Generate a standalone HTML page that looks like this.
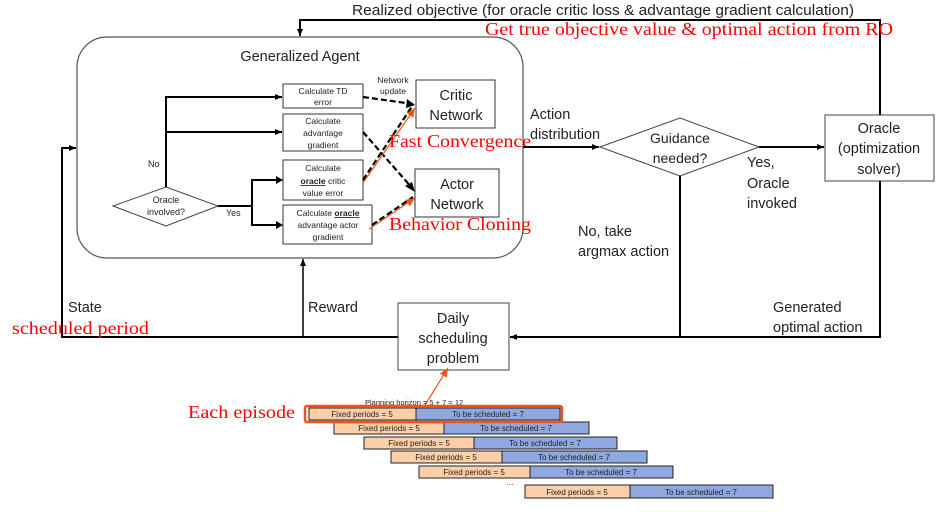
<!DOCTYPE html>
<html><head><style>
body{margin:0;background:#fff;}
svg text{font-family:"Liberation Sans",sans-serif;fill:#222;}
.s{font-family:"Liberation Serif",serif !important;fill:#f00 !important;}
</style></head><body>
<svg width="943" height="507" viewBox="0 0 943 507" xmlns="http://www.w3.org/2000/svg">
<defs>
<marker id="a" markerWidth="8" markerHeight="8" refX="7" refY="4" orient="auto" markerUnits="userSpaceOnUse"><path d="M0,1 L7,4 L0,7z" fill="#000"/></marker>
<marker id="o" markerWidth="10" markerHeight="10" refX="9" refY="5" orient="auto" markerUnits="userSpaceOnUse"><path d="M0,1 L9,5 L0,9z" fill="#f0541e"/></marker>
</defs>
<rect x="77" y="37" width="446" height="221" rx="30" fill="none" stroke="#555" stroke-width="1.2"/>
<text x="300" y="61" font-size="14.5" text-anchor="middle">Generalized Agent</text>
<polyline points="880,115 880,20 300,20 300,36" fill="none" stroke="#000" stroke-width="2" marker-end="url(#a)"/>
<text x="603" y="15" font-size="14.5" text-anchor="middle" textLength="502" lengthAdjust="spacingAndGlyphs">Realized objective (for oracle critic loss &amp; advantage gradient calculation)</text>
<text class="s" x="485" y="35" font-size="18" textLength="408" lengthAdjust="spacingAndGlyphs">Get true objective value &amp; optimal action from RO</text>
<polygon points="113,206 166,187 218,206 166,226" fill="#fff" stroke="#444"/>
<text x="166" y="203" font-size="9" text-anchor="middle">Oracle</text>
<text x="166" y="215" font-size="9" text-anchor="middle">involved?</text>
<text x="148" y="167" font-size="9">No</text>
<text x="226" y="216" font-size="9">Yes</text>
<polyline points="166,187 166,97 282,97" fill="none" stroke="#000" stroke-width="2" marker-end="url(#a)"/>
<line x1="166" y1="132" x2="282" y2="132" stroke="#000" stroke-width="2" marker-end="url(#a)"/>
<line x1="218" y1="206" x2="252" y2="206" stroke="#000" stroke-width="2"/>
<polyline points="282,180 252,180 252,225 282,225" fill="none" stroke="#000" stroke-width="2"/>
<path d="M276,176 L283,180 L276,184z M276,221 L283,225 L276,229z" fill="#000"/>
<rect x="283" y="84" width="80" height="24" fill="#fff" stroke="#333"/>
<text x="323" y="94" font-size="8.5" text-anchor="middle">Calculate TD</text>
<text x="323" y="105" font-size="8.5" text-anchor="middle">error</text>
<rect x="283" y="114" width="80" height="37" fill="#fff" stroke="#333"/>
<text x="323" y="124" font-size="8.5" text-anchor="middle">Calculate</text>
<text x="323" y="136" font-size="8.5" text-anchor="middle">advantage</text>
<text x="323" y="148" font-size="8.5" text-anchor="middle">gradient</text>
<rect x="283" y="160" width="80" height="40" fill="#fff" stroke="#333"/>
<text x="323" y="171" font-size="8.5" text-anchor="middle">Calculate</text>
<text x="323" y="184" font-size="8.5" text-anchor="middle"><tspan font-weight="bold" text-decoration="underline">oracle</tspan> critic</text>
<text x="323" y="196" font-size="8.5" text-anchor="middle">value error</text>
<rect x="283" y="205" width="89" height="39" fill="#fff" stroke="#333"/>
<text x="328" y="216" font-size="8.5" text-anchor="middle">Calculate <tspan font-weight="bold" text-decoration="underline">oracle</tspan></text>
<text x="328" y="228" font-size="8.5" text-anchor="middle">advantage actor</text>
<text x="328" y="240" font-size="8.5" text-anchor="middle">gradient</text>
<text x="393" y="83" font-size="8.5" text-anchor="middle">Network</text>
<text x="393" y="94" font-size="8.5" text-anchor="middle">update</text>
<g stroke="#000" stroke-width="2.2" stroke-dasharray="6,3" fill="none">
<line x1="363" y1="97" x2="413" y2="104"/>
<line x1="363" y1="132" x2="413" y2="189"/>
<line x1="363" y1="180" x2="413" y2="105"/>
<line x1="372" y1="225" x2="413" y2="197"/>
</g>
<path d="M407,99 L415,105 L406,108z M405,186 L415,192 L412,182z" fill="#000"/>
<line x1="363" y1="183" x2="415" y2="108" stroke="#f0541e" stroke-width="1.2" marker-end="url(#o)"/>
<line x1="369" y1="229" x2="415" y2="198" stroke="#f0541e" stroke-width="1.2" marker-end="url(#o)"/>
<rect x="416" y="80" width="79" height="48" fill="#fff" stroke="#333"/>
<text x="456" y="100" font-size="14.5" text-anchor="middle">Critic</text>
<text x="456" y="120" font-size="14.5" text-anchor="middle">Network</text>
<rect x="415" y="169" width="84" height="48" fill="#fff" stroke="#333"/>
<text x="457" y="189" font-size="14.5" text-anchor="middle">Actor</text>
<text x="457" y="209" font-size="14.5" text-anchor="middle">Network</text>
<text class="s" x="389" y="147" font-size="18" textLength="142" lengthAdjust="spacingAndGlyphs">Fast Convergence</text>
<text class="s" x="389" y="230" font-size="18" textLength="142" lengthAdjust="spacingAndGlyphs">Behavior Cloning</text>
<line x1="523" y1="147" x2="599" y2="147" stroke="#000" stroke-width="2" marker-end="url(#a)"/>
<text x="530" y="119" font-size="14.5">Action</text>
<text x="530" y="139" font-size="14.5">distribution</text>
<polygon points="600,147 680,118 759,147 680,176" fill="#fff" stroke="#444"/>
<text x="680" y="143" font-size="14" text-anchor="middle">Guidance</text>
<text x="680" y="163" font-size="14" text-anchor="middle">needed?</text>
<line x1="759" y1="147" x2="824" y2="147" stroke="#000" stroke-width="2" marker-end="url(#a)"/>
<text x="747" y="167" font-size="14.5">Yes,</text>
<text x="747" y="188" font-size="14.5">Oracle</text>
<text x="747" y="208" font-size="14.5">invoked</text>
<rect x="825" y="115" width="109" height="66" fill="#fff" stroke="#444"/>
<text x="879" y="133" font-size="14.5" text-anchor="middle">Oracle</text>
<text x="879" y="153" font-size="14.5" text-anchor="middle">(optimization</text>
<text x="879" y="174" font-size="14.5" text-anchor="middle">solver)</text>
<polyline points="880,181 880,337 510,337" fill="none" stroke="#000" stroke-width="2" marker-end="url(#a)"/>
<line x1="680" y1="176" x2="680" y2="337" stroke="#000" stroke-width="2"/>
<text x="578" y="236" font-size="14.5">No, take</text>
<text x="578" y="256" font-size="14.5">argmax action</text>
<text x="773" y="312" font-size="14.5">Generated</text>
<text x="773" y="332" font-size="14.5">optimal action</text>
<polyline points="398,337 62,337 62,148 76,148" fill="none" stroke="#000" stroke-width="2" marker-end="url(#a)"/>
<line x1="303" y1="337" x2="303" y2="259" stroke="#000" stroke-width="1.5" marker-end="url(#a)"/>
<text x="68" y="312" font-size="14.5">State</text>
<text x="308" y="312" font-size="14.5">Reward</text>
<text class="s" x="12" y="334" font-size="18" textLength="137" lengthAdjust="spacingAndGlyphs">scheduled period</text>
<rect x="398" y="303" width="111" height="67" fill="#fff" stroke="#444"/>
<text x="453" y="323" font-size="14.5" text-anchor="middle">Daily</text>
<text x="453" y="343" font-size="14.5" text-anchor="middle">scheduling</text>
<text x="453" y="363" font-size="14.5" text-anchor="middle">problem</text>
<line x1="425" y1="405" x2="448" y2="368" stroke="#f0541e" stroke-width="1.2" marker-end="url(#o)"/>
<text x="365" y="405" font-size="7.5">Planning horizon = 5 + 7 = 12</text>
<text class="s" x="188" y="418" font-size="18" textLength="107" lengthAdjust="spacingAndGlyphs">Each episode</text>
<g font-size="8" stroke="#222" stroke-width="1">
<rect x="309" y="408" width="107" height="12" fill="#fccfa8"/><rect x="416" y="408" width="144" height="12" fill="#8fa9e0"/>
<rect x="334" y="422" width="110" height="12" fill="#fccfa8"/><rect x="444" y="422" width="145" height="12" fill="#8fa9e0"/>
<rect x="364" y="437" width="110" height="12" fill="#fccfa8"/><rect x="474" y="437" width="143" height="12" fill="#8fa9e0"/>
<rect x="391" y="451" width="111" height="12" fill="#fccfa8"/><rect x="502" y="451" width="145" height="12" fill="#8fa9e0"/>
<rect x="419" y="466" width="111" height="12" fill="#fccfa8"/><rect x="530" y="466" width="143" height="12" fill="#8fa9e0"/>
<rect x="525" y="485" width="105" height="13" fill="#fccfa8"/><rect x="630" y="485" width="143" height="13" fill="#8fa9e0"/>
</g>
<rect x="305" y="406" width="257" height="16" rx="2" fill="none" stroke="#f0541e" stroke-width="2.5"/>
<g font-size="8" text-anchor="middle">
<text x="362" y="417">Fixed periods = 5</text><text x="488" y="417">To be scheduled = 7</text>
<text x="389" y="431">Fixed periods = 5</text><text x="516" y="431">To be scheduled = 7</text>
<text x="419" y="446">Fixed periods = 5</text><text x="545" y="446">To be scheduled = 7</text>
<text x="446" y="460">Fixed periods = 5</text><text x="574" y="460">To be scheduled = 7</text>
<text x="474" y="475">Fixed periods = 5</text><text x="601" y="475">To be scheduled = 7</text>
<text x="577" y="495">Fixed periods = 5</text><text x="701" y="495">To be scheduled = 7</text>
<text x="510" y="485">...</text>
</g>
</svg>
</body></html>
